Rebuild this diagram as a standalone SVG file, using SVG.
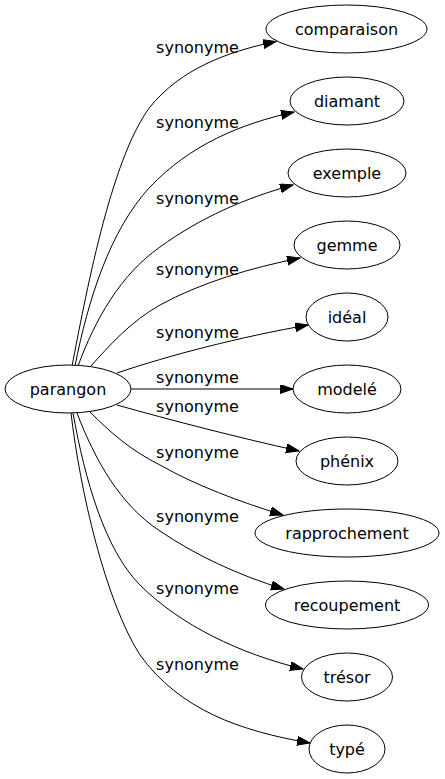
<svg xmlns="http://www.w3.org/2000/svg" width="445" height="779" viewBox="0 0 445 779">
<defs>
<style>
.node ellipse{fill:#fff;stroke:#000;stroke-width:1}
.node text{font-family:"DejaVu Sans",Verdana,sans-serif;font-size:16px;fill:#000;text-anchor:middle}
.edges path{fill:none;stroke:#000;stroke-width:1;marker-end:url(#arr)}
.edges text{font-family:"DejaVu Sans",Verdana,sans-serif;font-size:16px;fill:#000;text-anchor:middle}
</style>
<marker id="arr" markerUnits="userSpaceOnUse" markerWidth="14" markerHeight="10" refX="13" refY="4.5" orient="auto" viewBox="0 0 14 10">
<path d="M0,0 L13,4.5 L0,9 z" fill="#000" stroke="#000" stroke-width="1"/>
</marker>
</defs>
<rect width="445" height="779" fill="#fff"/>
<g id="edges" class="edges">
<path d="M72,366 C85,300 110,160 150,107 C180,70 225,52 276,41.5"/>
<text x="197.5" y="53">synonyme</text>
<path d="M75,366 C88,300 110,230 150,187 C190,145 240,124 294,112"/>
<text x="197.5" y="128">synonyme</text>
<path d="M78,366 C95,320 120,275 160,247 C200,218 245,198 293,185"/>
<text x="197.5" y="204">synonyme</text>
<path d="M90,367 C110,345 130,322 160,305 C200,283 250,268 300,258"/>
<text x="197.5" y="275">synonyme</text>
<path d="M117,373 C170,355 240,337 308,325"/>
<text x="197.5" y="338">synonyme</text>
<path d="M131,389 L293,389"/>
<text x="197.5" y="383">synonyme</text>
<path d="M117,405 C170,420 240,438 299,451"/>
<text x="197.5" y="412">synonyme</text>
<path d="M90,412 C110,432 130,450 160,465 C195,485 240,502 283,515"/>
<text x="197.5" y="458">synonyme</text>
<path d="M77,413 C95,460 120,505 160,531 C195,555 240,576 284,589"/>
<text x="197.5" y="522">synonyme</text>
<path d="M73,413 C85,480 105,550 140,585 C180,625 240,654 303,669"/>
<text x="197.5" y="594">synonyme</text>
<path d="M71,413 C80,490 105,600 140,655 C180,710 240,731 310,743"/>
<text x="197.5" y="670">synonyme</text>
</g>
<g id="parangon" class="node"><ellipse cx="68" cy="389" rx="63" ry="24"/><text x="68" y="394.5">parangon</text></g>
<g id="comparaison" class="node"><ellipse cx="346.5" cy="29" rx="80.5" ry="24"/><text x="346.5" y="34.5">comparaison</text></g>
<g id="diamant" class="node"><ellipse cx="347" cy="101" rx="57" ry="24"/><text x="347" y="106.5">diamant</text></g>
<g id="exemple" class="node"><ellipse cx="347" cy="173" rx="59" ry="24"/><text x="347" y="178.5">exemple</text></g>
<g id="gemme" class="node"><ellipse cx="347" cy="245" rx="53" ry="24"/><text x="347" y="250.5">gemme</text></g>
<g id="ideal" class="node"><ellipse cx="347" cy="317" rx="41" ry="24"/><text x="347" y="322.5">idéal</text></g>
<g id="modele" class="node"><ellipse cx="347" cy="389" rx="54" ry="24"/><text x="347" y="394.5">modelé</text></g>
<g id="phenix" class="node"><ellipse cx="347" cy="461" rx="51" ry="24"/><text x="347" y="466.5">phénix</text></g>
<g id="rapprochement" class="node"><ellipse cx="347" cy="533" rx="92" ry="24"/><text x="347" y="538.5">rapprochement</text></g>
<g id="recoupement" class="node"><ellipse cx="347" cy="605" rx="81.5" ry="24"/><text x="347" y="610.5">recoupement</text></g>
<g id="tresor" class="node"><ellipse cx="347" cy="677" rx="45.5" ry="24"/><text x="347" y="682.5">trésor</text></g>
<g id="type" class="node"><ellipse cx="347" cy="749" rx="38" ry="24"/><text x="347" y="754.5">typé</text></g>
</svg>
